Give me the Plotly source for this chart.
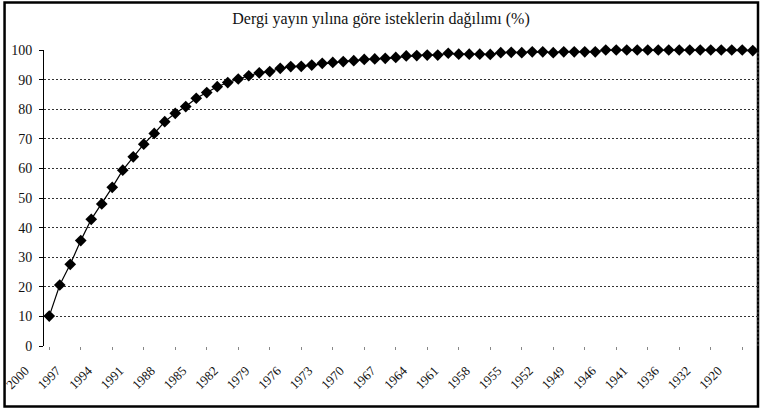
import plotly.graph_objects as go

title_text = "Dergi yayın yılına göre isteklerin dağılımı (%)"

years = [str(y) for y in range(2000, 1945, -1)] + [
    "1945", "1942", "1941", "1940", "1938", "1936", "1935", "1933",
    "1932", "1930", "1925", "1920", "1910"]

values = [10.1, 20.6, 27.6, 35.6, 42.8, 48.0, 53.6, 59.4, 63.9, 68.2,
          71.8, 75.8, 78.6, 80.9, 83.7, 85.6, 87.6, 89.0, 90.2, 91.3,
          92.3, 92.7, 93.8, 94.4, 94.5, 94.9, 95.5, 95.8, 96.1, 96.4,
          96.8, 97.0, 97.2, 97.5, 98.0, 98.1, 98.3, 98.3, 98.9, 98.6,
          98.6, 98.6, 98.5, 99.1, 99.2, 99.1, 99.4, 99.4, 99.1, 99.4,
          99.4, 99.4, 99.4, 100, 100, 100, 100, 100, 100, 100,
          100, 100, 100, 100, 100, 100, 100, 99.8]

tick_labels = years[::3]
y_ticks = list(range(0, 101, 10))

font_family = "Liberation Serif, Times New Roman, serif"

fig = go.Figure()
fig.add_trace(go.Scatter(
    x=years, y=values, mode="lines+markers",
    line=dict(color="black", width=1.2),
    marker=dict(symbol="diamond", size=9, color="black"),
    cliponaxis=False, showlegend=False, hoverinfo="skip",
))

L, R, T, B = 43.5, 2.5, 50, 64
W, H = 761, 410
pw, ph = W - L - R, H - T - B

fig.update_layout(
    width=W, height=H,
    margin=dict(l=L, r=R, t=T, b=B, autoexpand=False),
    paper_bgcolor="white", plot_bgcolor="white",
    font=dict(family=font_family, size=13, color="#111"),
    title=dict(text=title_text, x=(381 - L) / pw, xref="paper", xanchor="center",
               y=1 - 18 / H, yanchor="middle",
               font=dict(size=16, family=font_family)),
    xaxis=dict(
        type="category", categoryorder="array", categoryarray=years,
        range=[-0.5, len(years) - 0.5], automargin=False,
        tickmode="array", tickvals=tick_labels, ticktext=tick_labels,
        tickangle=-45, showgrid=False, zeroline=False, showline=False,
        ticks="outside", ticklen=3, tickcolor="#888",
        ticklabelshift=-24, ticklabelstandoff=8,
        tickfont=dict(size=13, family=font_family),
    ),
    yaxis=dict(
        range=[0, 100], tickmode="array", tickvals=y_ticks, automargin=False,
        showgrid=True, gridcolor="#333", griddash="2px,2px", gridwidth=1,
        zeroline=False, showline=True, linecolor="black", linewidth=1,
        ticks="outside", ticklen=4, tickcolor="black", ticklabelstandoff=4,
        tickfont=dict(size=14, family=font_family),
    ),
    shapes=[
        dict(type="line", xref="paper", yref="paper", x0=1, x1=1, y0=0, y1=1,
             line=dict(color="#555", width=1, dash="2px,2px")),
        dict(type="rect", xref="paper", yref="paper",
             x0=(4 - L) / pw, x1=(758.5 - L) / pw,
             y0=(H - B - 406.5) / ph, y1=(H - B - 2.5) / ph,
             line=dict(color="black", width=2.5), fillcolor="rgba(0,0,0,0)",
             layer="below"),
    ],
)

fig.write_html("out.html",
               config={"displayModeBar": False},
               post_script="document.body.style.margin='0';"
                           "document.body.style.overflow='hidden';")
